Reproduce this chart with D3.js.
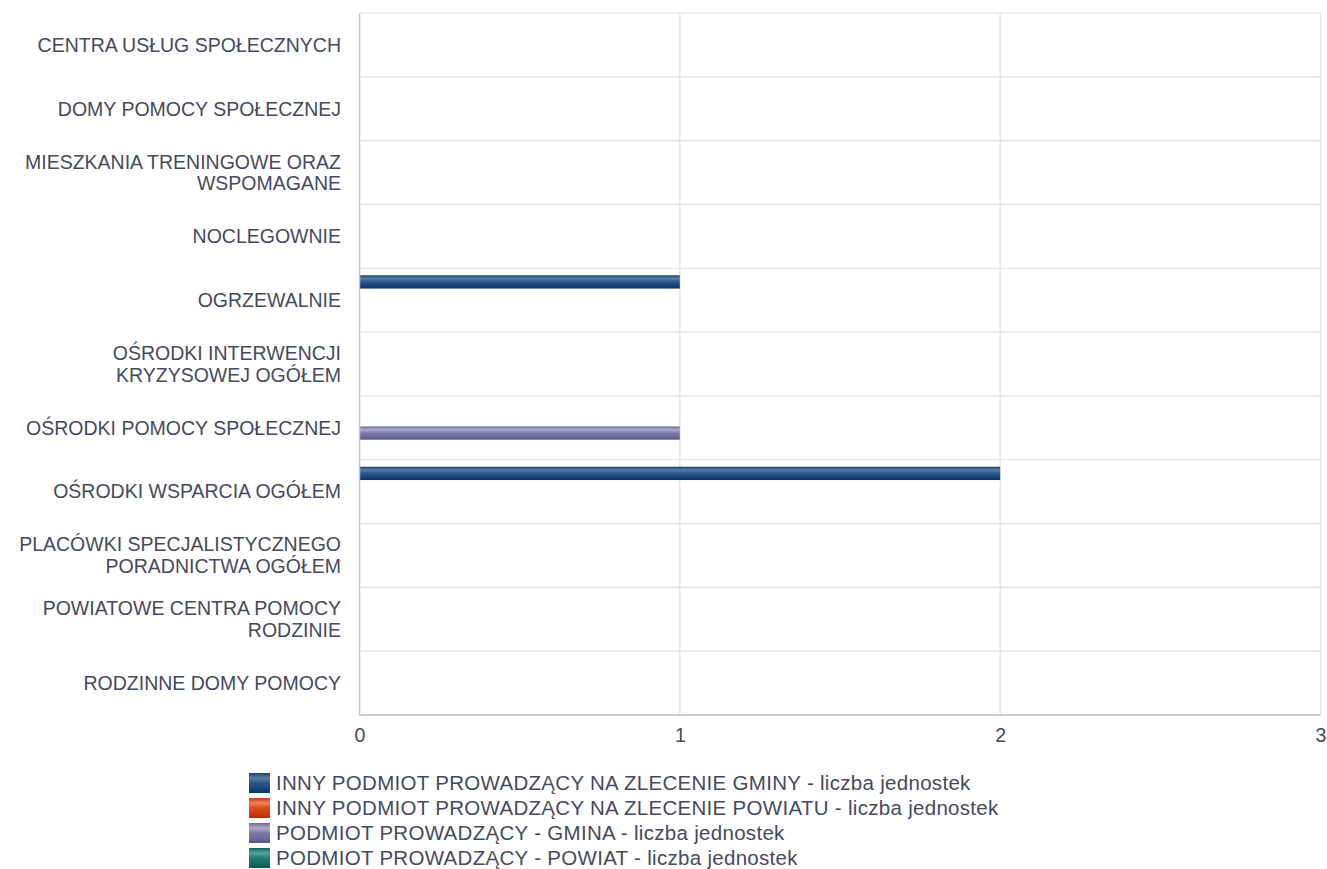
<!DOCTYPE html>
<html>
<head>
<meta charset="utf-8">
<script src="https://cdn.jsdelivr.net/npm/d3@7"></script>
<style>
  body { margin: 0; background: #fff; }
  text { font-family: "Liberation Sans", Arial, sans-serif; fill: #464a60; }
</style>
</head>
<body>
<script>
// categories, each one as the lines of its label
var categoryLines = [
  ["CENTRA USŁUG SPOŁECZNYCH"],
  ["DOMY POMOCY SPOŁECZNEJ"],
  ["MIESZKANIA TRENINGOWE ORAZ", "WSPOMAGANE"],
  ["NOCLEGOWNIE"],
  ["OGRZEWALNIE"],
  ["OŚRODKI INTERWENCJI", "KRYZYSOWEJ OGÓŁEM"],
  ["OŚRODKI POMOCY SPOŁECZNEJ"],
  ["OŚRODKI WSPARCIA OGÓŁEM"],
  ["PLACÓWKI SPECJALISTYCZNEGO", "PORADNICTWA OGÓŁEM"],
  ["POWIATOWE CENTRA POMOCY", "RODZINIE"],
  ["RODZINNE DOMY POMOCY"]
];
var categories = categoryLines.map(function (l) { return l.join(" "); });

var seriesNames = [
  "INNY PODMIOT PROWADZĄCY NA ZLECENIE GMINY - liczba jednostek",
  "INNY PODMIOT PROWADZĄCY NA ZLECENIE POWIATU - liczba jednostek",
  "PODMIOT PROWADZĄCY - GMINA - liczba jednostek",
  "PODMIOT PROWADZĄCY - POWIAT - liczba jednostek"
];
var innyGmina     = [0, 0, 0, 0, 1, 0, 0, 2, 0, 0, 0];
var innyPowiat    = [0, 0, 0, 0, 0, 0, 0, 0, 0, 0, 0];
var podmiotGmina  = [0, 0, 0, 0, 0, 0, 1, 0, 0, 0, 0];
var podmiotPowiat = [0, 0, 0, 0, 0, 0, 0, 0, 0, 0, 0];
var xTicks = [0, 1, 2, 3];

var seriesValues = [innyGmina, innyPowiat, podmiotGmina, podmiotPowiat];

// gradient stops per series (top -> bottom)
var seriesStops = [
  ["#1d3f6a", "#5a7ea8", "#2c5686", "#1a467a", "#0c3362"],
  ["#c83a10", "#f08458", "#dc4c1c", "#d03e0c", "#b02e00"],
  ["#6c6894", "#aeaccc", "#7d79a6", "#716d9c", "#5c5886"],
  ["#0f5f58", "#56a59c", "#21786f", "#166c64", "#0a554e"]
];

var W = 1327, H = 869;
var plot = { left: 359.5, top: 13, right: 1320.5, bottom: 715 };
var fontSize = 19.5;

var svg = d3.select("body").append("svg")
  .attr("width", W)
  .attr("height", H);

var defs = svg.append("defs");
seriesStops.forEach(function (stops, i) {
  var g = defs.append("linearGradient")
    .attr("id", "grad" + i)
    .attr("x1", 0).attr("y1", 0).attr("x2", 0).attr("y2", 1);
  var offs = [0, 0.25, 0.5, 0.75, 1];
  stops.forEach(function (c, j) {
    g.append("stop").attr("offset", offs[j]).attr("stop-color", c);
  });
});

var x = d3.scaleLinear().domain([0, 3]).range([plot.left, plot.right]);
var y = d3.scaleBand().domain(categories).range([plot.top, plot.bottom]);
var inner = d3.scaleBand().domain(d3.range(seriesNames.length))
  .range([7, 54]);

// horizontal grid lines at band edges
svg.append("g")
  .selectAll("line")
  .data(categories)
  .join("line")
  .attr("x1", plot.left).attr("x2", plot.right)
  .attr("y1", function (d) { return y(d); })
  .attr("y2", function (d) { return y(d); })
  .attr("stroke", "#e1e1e1").attr("stroke-width", 1.2);

// vertical grid lines
svg.append("g")
  .selectAll("line")
  .data(xTicks.slice(1))
  .join("line")
  .attr("x1", function (d) { return x(d); })
  .attr("x2", function (d) { return x(d); })
  .attr("y1", plot.top).attr("y2", plot.bottom)
  .attr("stroke", "#e1e1e1").attr("stroke-width", 1.2);

// bars
var rows = [];
categories.forEach(function (c, ci) {
  seriesValues.forEach(function (vals, si) {
    rows.push({ cat: c, s: si, v: vals[ci] });
  });
});
svg.append("g")
  .selectAll("rect")
  .data(rows.filter(function (d) { return d.v > 0; }))
  .join("rect")
  .attr("x", x(0))
  .attr("y", function (d) { return y(d.cat) + inner(d.s); })
  .attr("width", function (d) { return x(d.v) - x(0); })
  .attr("height", 13.3)
  .attr("fill", function (d) { return "url(#grad" + d.s + ")"; });

// axis lines
svg.append("line")
  .attr("x1", plot.left).attr("x2", plot.left)
  .attr("y1", plot.top).attr("y2", plot.bottom)
  .attr("stroke", "#c6c6d0").attr("stroke-width", 1.5);
svg.append("line")
  .attr("x1", plot.left).attr("x2", plot.right)
  .attr("y1", plot.bottom).attr("y2", plot.bottom)
  .attr("stroke", "#b8b8c4").attr("stroke-width", 1.5);

// x axis tick labels
var xAxis = d3.axisBottom(x).tickValues(xTicks).tickSize(0).tickPadding(13)
  .tickFormat(d3.format("d"));
var gx = svg.append("g")
  .attr("transform", "translate(0," + plot.bottom + ")")
  .call(xAxis);
gx.select(".domain").remove();
gx.selectAll("text")
  .attr("font-size", fontSize)
  .style("font-family", "'Liberation Sans', Arial, sans-serif")
  .attr("fill", "#464a60");

// category labels
var lab = svg.append("g")
  .selectAll("text")
  .data(categoryLines)
  .join("text")
  .attr("text-anchor", "end")
  .attr("font-size", fontSize)
  .attr("y", function (d, i) { return y(categories[i]) + y.bandwidth() / 2; });
lab.each(function (lines) {
  var t = d3.select(this);
  var n = lines.length;
  lines.forEach(function (line, k) {
    t.append("tspan")
      .attr("x", 341)
      .attr("dy", k === 0 ? (fontSize * 0.35 - (n - 1) * 10.85) : 21.7)
      .text(line);
  });
});

// legend
var legend = svg.append("g")
  .selectAll("g")
  .data(seriesNames)
  .join("g")
  .attr("transform", function (d, i) { return "translate(249," + (773 + i * 25) + ")"; });
legend.append("rect")
  .attr("width", 21).attr("height", 20)
  .attr("fill", function (d, i) { return "url(#grad" + i + ")"; });
legend.append("text")
  .attr("x", 27).attr("y", 10).attr("dy", "0.36em")
  .attr("font-size", 20.5)
  .attr("letter-spacing", 0.3)
  .text(function (d) { return d; });
</script>
</body>
</html>
